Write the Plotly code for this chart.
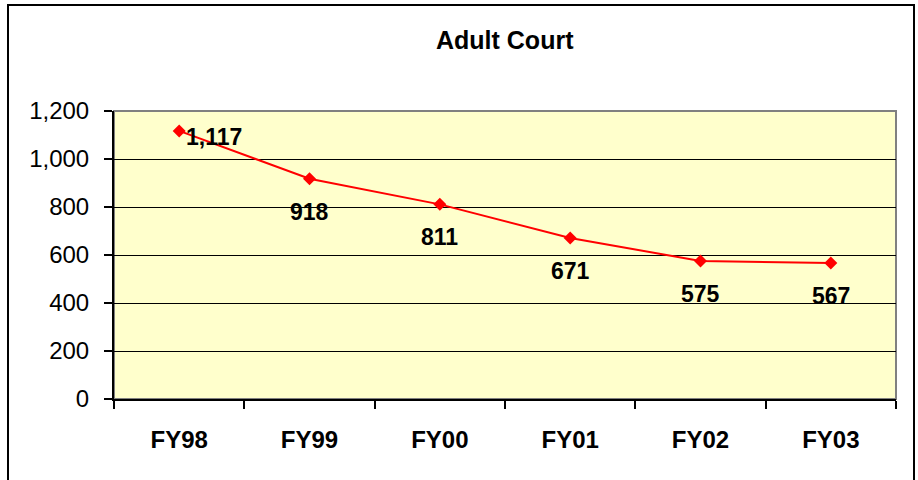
import plotly.graph_objects as go

categories = ["FY98", "FY99", "FY00", "FY01", "FY02", "FY03"]
values = [1117, 918, 811, 671, 575, 567]
label_texts = ["1,117", "918", "811", "671", "575", "567"]
y_ticks = [0, 200, 400, 600, 800, 1000, 1200]
y_tick_labels = ["0", "200", "400", "600", "800", "1,000", "1,200"]

W, H = 918, 480
L, R, T, B = 114, 22, 111, 81
pw, ph = W - L - R, H - T - B
FONT = "Liberation Sans, Arial"

fig = go.Figure()
fig.add_trace(go.Scatter(
    x=categories, y=values, mode="lines+markers",
    line=dict(color="#FF0000", width=2),
    marker=dict(symbol="diamond", size=10, color="#FF0000"),
    hoverinfo="skip", showlegend=False,
))

annotations = []
for i, (c, v, t) in enumerate(zip(categories, values, label_texts)):
    if i == 0:
        xs, ys = 35, -6
    else:
        xs, ys = 0, -33
    annotations.append(dict(
        x=c, y=v, xref="x", yref="y", text="<b>%s</b>" % t, showarrow=False,
        xshift=xs, yshift=ys,
        font=dict(family=FONT, size=23, color="black"),
    ))

annotations.append(dict(
    x=0.5, y=(H - 40 - B) / ph, xref="paper", yref="paper", text="<b>Adult Court</b>",
    showarrow=False, font=dict(family=FONT, size=25, color="black"),
    xanchor="center", yanchor="middle",
))

def px_to_paper_x(px):
    return (px - L) / pw

def px_to_paper_y(py):
    return (H - B - py) / ph

shapes = [
    dict(type="rect", xref="paper", yref="paper", x0=0, x1=1, y0=0, y1=1,
         line=dict(color="#808080", width=2), layer="below"),
    dict(type="rect", xref="paper", yref="paper",
         x0=px_to_paper_x(8), x1=px_to_paper_x(914),
         y0=px_to_paper_y(490), y1=px_to_paper_y(5),
         line=dict(color="black", width=2), layer="below"),
]

fig.update_layout(
    width=W, height=H,
    margin=dict(l=L, r=R, t=T, b=B),
    paper_bgcolor="white",
    plot_bgcolor="#FFFFCC",
    annotations=annotations,
    shapes=shapes,
    xaxis=dict(
        type="category", tickson="boundaries", ticks="outside", ticklen=8,
        tickwidth=2, tickcolor="black", showline=True, linecolor="black", linewidth=2,
        showgrid=False, range=[-0.5, 5.5],
        tickfont=dict(family=FONT, size=24, color="black", weight="bold"),
        ticklabelstandoff=18,
    ),
    yaxis=dict(
        range=[0, 1200], tickvals=y_ticks, ticktext=y_tick_labels,
        ticks="outside", ticklen=8, tickwidth=2, tickcolor="black",
        showline=True, linecolor="black", linewidth=2,
        showgrid=True, gridcolor="black", gridwidth=1, zeroline=False,
        tickfont=dict(family=FONT, size=24, color="black"),
        ticklabelstandoff=10,
    ),
)

fig.write_html(
    "out.html",
    config={"displayModeBar": False},
    post_script="document.body.style.margin='0';document.body.style.overflow='hidden';",
)
